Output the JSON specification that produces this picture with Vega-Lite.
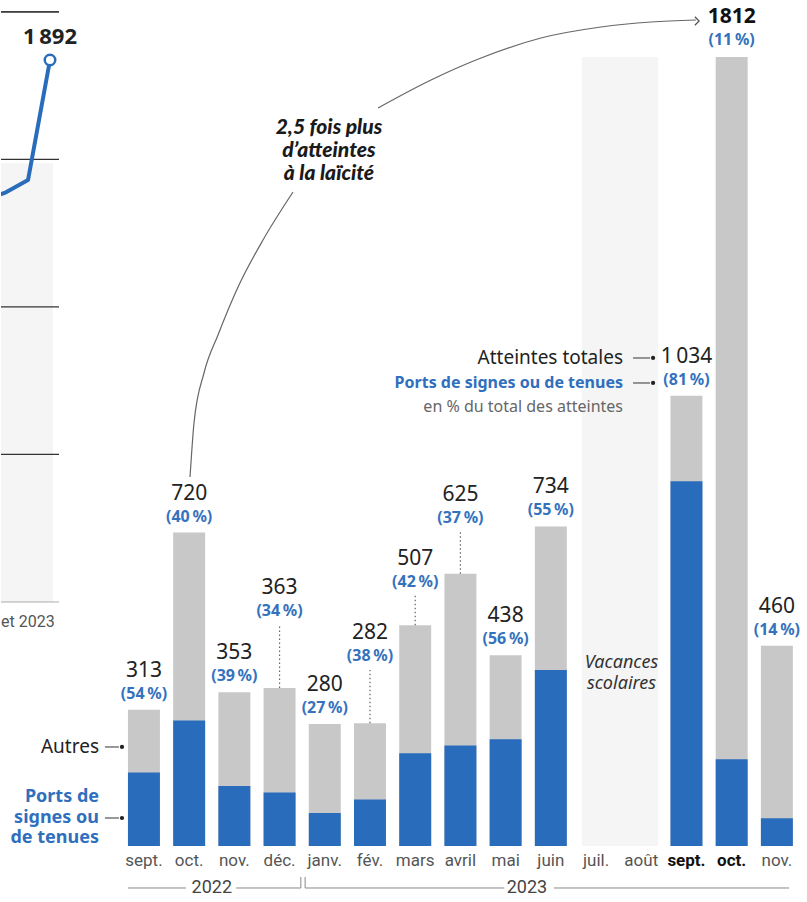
{
"$schema": "https://vega.github.io/schema/vega-lite/v6.json",
"padding": 0,
"spacing": 0,
"bounds": "flush",
"background": "white",
"config": {"view": {"stroke": null}, "font": "Noto Sans"},
"datasets": {
"months": [
{"key":"sept.|22","total":313,"ports":169,"lab":"313","pct":"(54\u202f%)"},
{"key":"oct.|22","total":720,"ports":288,"lab":"720","pct":"(40\u202f%)"},
{"key":"nov.|22","total":353,"ports":138,"lab":"353","pct":"(39\u202f%)"},
{"key":"déc.|22","total":363,"ports":123,"lab":"363","pct":"(34\u202f%)"},
{"key":"janv.|23","total":280,"ports":76,"lab":"280","pct":"(27\u202f%)"},
{"key":"fév.|23","total":282,"ports":107,"lab":"282","pct":"(38\u202f%)"},
{"key":"mars|23","total":507,"ports":213,"lab":"507","pct":"(42\u202f%)"},
{"key":"avril|23","total":625,"ports":231,"lab":"625","pct":"(37\u202f%)"},
{"key":"mai|23","total":438,"ports":245,"lab":"438","pct":"(56\u202f%)"},
{"key":"juin|23","total":734,"ports":404,"lab":"734","pct":"(55\u202f%)"},
{"key":"sept.|23","total":1034,"ports":838,"lab":"1\u202f034","pct":"(81\u202f%)"},
{"key":"oct.|23","total":1812,"ports":199,"lab":"1812","pct":"(11\u202f%)"},
{"key":"nov.|23","total":460,"ports":64,"lab":"460","pct":"(14\u202f%)"}
],
"line": [{"m":-1,"v":1403},{"m":0,"v":1430},{"m":1,"v":1473},{"m":2,"v":1892}],
"grid": [{"v":515},{"v":1030},{"v":1545},{"v":2060}],
"arc": [
{"seg":"a","i":1.019,"v":847.5},{"seg":"a","i":1.107,"v":971.5},{"seg":"a","i":1.328,"v":1086.3},{"seg":"a","i":1.638,"v":1173.6},{"seg":"a","i":2.102,"v":1288.4},{"seg":"a","i":2.633,"v":1391.8},{"seg":"a","i":3.297,"v":1502.0},
{"seg":"b","i":5.177,"v":1695.0},{"seg":"b","i":6.349,"v":1759.3},{"seg":"b","i":7.455,"v":1809.8},{"seg":"b","i":8.782,"v":1855.7},{"seg":"b","i":10.109,"v":1881.0},{"seg":"b","i":11.215,"v":1892.5},{"seg":"b","i":12.21,"v":1897.1}
],
"brackets": [{"a":-0.353,"b":0.93},{"a":2.04,"b":3.47},{"a":3.565,"b":7.97},{"a":9.07,"b":14.27}],
"ticks": [{"a":3.47},{"a":3.565}],
"years": [{"a":1.5,"t":"2022"},{"a":8.47,"t":"2023"}],
"one": [{}]
},
"hconcat": [
{
"width": 58, "height": 846,
"layer": [
{"data":{"name":"one"},"mark":{"type":"rect","fill":"#f5f5f5"},
 "encoding":{"x":{"datum":-0.2273,"type":"quantitative","scale":{"domain":[-0.2273,2.4091],"nice":false,"zero":false},"axis":null},"x2":{"datum":2.136},
 "y":{"datum":0,"type":"quantitative","scale":{"domain":[-851.75,2101.44],"nice":false,"zero":false},"axis":null},"y2":{"datum":1532}}},
{"data":{"name":"grid"},"mark":{"type":"rule","color":"#333","strokeWidth":1.2},
 "encoding":{"x":{"datum":-0.2273,"type":"quantitative","axis":null},"x2":{"datum":2.4091},"y":{"field":"v","type":"quantitative","axis":null}}},
{"data":{"name":"one"},"mark":{"type":"rule","color":"#333","strokeWidth":1.2},
 "encoding":{"x":{"datum":-0.2273,"type":"quantitative","axis":null},"x2":{"datum":2.4091},"y":{"datum":2060,"type":"quantitative","axis":null}}},
{"data":{"name":"one"},"mark":{"type":"rule","color":"#aaa","strokeWidth":1},
 "encoding":{"x":{"datum":-0.2273,"type":"quantitative","axis":null},"x2":{"datum":2.4091},"y":{"datum":0,"type":"quantitative","axis":null}}},
{"data":{"name":"line"},"mark":{"type":"line","color":"#2a6cbc","strokeWidth":4,"clip":true,"strokeJoin":"round"},
 "encoding":{"x":{"field":"m","type":"quantitative","axis":null},"y":{"field":"v","type":"quantitative","axis":null}}},
{"data":{"name":"line"},"transform":[{"filter":"datum.m==2"}],
 "mark":{"type":"point","shape":"circle","size":110,"filled":true,"fill":"white","stroke":"#2a6cbc","strokeWidth":2.5,"opacity":1},
 "encoding":{"x":{"field":"m","type":"quantitative","axis":null},"y":{"field":"v","type":"quantitative","axis":null}}},
{"data":{"name":"line"},"transform":[{"filter":"datum.m==2"}],
 "mark":{"type":"text","fontSize":22,"fontWeight":"bold","color":"#222","dy":-23,"baseline":"middle"},
 "encoding":{"x":{"field":"m","type":"quantitative","axis":null},"y":{"field":"v","type":"quantitative","axis":null},"text":{"value":"1\u202f892"}}},
{"data":{"name":"one"},"mark":{"type":"text","font":"Roboto","fontSize":16,"color":"#555","align":"left","baseline":"middle"},
 "encoding":{"x":{"datum":-0.2273,"type":"quantitative","axis":null},"y":{"datum":-69.8,"type":"quantitative","axis":null},"text":{"value":"et 2023"}}}
]
},
{
"width": 749, "height": 846,
"resolve": {"scale": {"x": "independent"}},
"layer": [
{"data":{"name":"one"},"mark":{"type":"rect","fill":"#f5f5f5"},
 "encoding":{"x":{"datum":9.688,"type":"quantitative","scale":{"domain":[-1.879,14.688],"nice":false,"zero":false},"axis":null},"x2":{"datum":11.369},
 "y":{"datum":0,"type":"quantitative","scale":{"domain":[0,1943],"nice":false,"zero":false},"axis":null},"y2":{"datum":1812}}},
{
 "data":{"name":"months"},
 "encoding":{"x":{"field":"key","type":"nominal","sort":null,
   "scale":{"type":"band","domain":["sept.|22","oct.|22","nov.|22","déc.|22","janv.|23","fév.|23","mars|23","avril|23","mai|23","juin|23","juil.|23","août|23","sept.|23","oct.|23","nov.|23"],"paddingInner":0.293,"paddingOuter":0.93,"align":0.82},
   "axis":{"title":null,"domain":false,"ticks":false,"grid":false,"labelAngle":0,"labelPadding":6,"labelOverlap":false,"labelFont":"Roboto","labelFontSize":17,
     "labelExpr":"split(datum.value,'|')[0]",
     "labelColor":{"condition":{"test":"datum.value=='sept.|23'||datum.value=='oct.|23'","value":"#111"},"value":"#555"},
     "labelFontWeight":{"condition":{"test":"datum.value=='sept.|23'||datum.value=='oct.|23'","value":"bold"},"value":"normal"}}}},
 "layer":[
  {"mark":{"type":"bar","color":"#c8c8c8"},"encoding":{"y":{"field":"total","type":"quantitative","scale":{"domain":[0,1943],"nice":false,"zero":false},"axis":null},"y2":{"datum":0}}},
  {"mark":{"type":"bar","color":"#2a6cbc"},"encoding":{"y":{"field":"ports","type":"quantitative","axis":null},"y2":{"datum":0}}},
  {"transform":[{"filter":{"field":"key","oneOf":["sept.|22","oct.|22","nov.|22","janv.|23","mai|23","juin|23","sept.|23","nov.|23"]}}],
   "mark":{"type":"text","fontSize":21,"color":"#222","baseline":"middle","dy":-39},"encoding":{"y":{"field":"total","type":"quantitative","axis":null},"text":{"field":"lab","type":"nominal"}}},
  {"transform":[{"filter":{"field":"key","oneOf":["sept.|22","oct.|22","nov.|22","janv.|23","mai|23","juin|23","sept.|23","nov.|23"]}}],
   "mark":{"type":"text","fontSize":16,"fontWeight":"bold","color":"#3572be","baseline":"middle","dy":-16},"encoding":{"y":{"field":"total","type":"quantitative","axis":null},"text":{"field":"pct","type":"nominal"}}},
  {"transform":[{"filter":"datum.key=='oct.|23'"}],
   "mark":{"type":"text","fontSize":21,"fontWeight":"bold","color":"#111","baseline":"middle","dy":-40},"encoding":{"y":{"field":"total","type":"quantitative","axis":null},"text":{"field":"lab","type":"nominal"}}},
  {"transform":[{"filter":"datum.key=='oct.|23'"}],
   "mark":{"type":"text","fontSize":16,"fontWeight":"bold","color":"#3572be","baseline":"middle","dy":-17},"encoding":{"y":{"field":"total","type":"quantitative","axis":null},"text":{"field":"pct","type":"nominal"}}},
  {"transform":[{"filter":"datum.key=='déc.|22'"}],"mark":{"type":"text","fontSize":21,"color":"#222","baseline":"middle"},"encoding":{"y":{"datum":592.5,"type":"quantitative","axis":null},"text":{"field":"lab","type":"nominal"}}},
  {"transform":[{"filter":"datum.key=='déc.|22'"}],"mark":{"type":"text","fontSize":16,"fontWeight":"bold","color":"#3572be","baseline":"middle","dy":23},"encoding":{"y":{"datum":592.5,"type":"quantitative","axis":null},"text":{"field":"pct","type":"nominal"}}},
  {"transform":[{"filter":"datum.key=='déc.|22'"}],"mark":{"type":"rule","color":"#666","strokeDash":[1.5,2.5],"strokeWidth":1.2},"encoding":{"y":{"field":"total","type":"quantitative","axis":null},"y2":{"datum":507.6}}},
  {"transform":[{"filter":"datum.key=='fév.|23'"}],"mark":{"type":"text","fontSize":21,"color":"#222","baseline":"middle"},"encoding":{"y":{"datum":489.2,"type":"quantitative","axis":null},"text":{"field":"lab","type":"nominal"}}},
  {"transform":[{"filter":"datum.key=='fév.|23'"}],"mark":{"type":"text","fontSize":16,"fontWeight":"bold","color":"#3572be","baseline":"middle","dy":23},"encoding":{"y":{"datum":489.2,"type":"quantitative","axis":null},"text":{"field":"pct","type":"nominal"}}},
  {"transform":[{"filter":"datum.key=='fév.|23'"}],"mark":{"type":"rule","color":"#666","strokeDash":[1.5,2.5],"strokeWidth":1.2},"encoding":{"y":{"field":"total","type":"quantitative","axis":null},"y2":{"datum":404.2}}},
  {"transform":[{"filter":"datum.key=='mars|23'"}],"mark":{"type":"text","fontSize":21,"color":"#222","baseline":"middle"},"encoding":{"y":{"datum":659.2,"type":"quantitative","axis":null},"text":{"field":"lab","type":"nominal"}}},
  {"transform":[{"filter":"datum.key=='mars|23'"}],"mark":{"type":"text","fontSize":16,"fontWeight":"bold","color":"#3572be","baseline":"middle","dy":23},"encoding":{"y":{"datum":659.2,"type":"quantitative","axis":null},"text":{"field":"pct","type":"nominal"}}},
  {"transform":[{"filter":"datum.key=='mars|23'"}],"mark":{"type":"rule","color":"#666","strokeDash":[1.5,2.5],"strokeWidth":1.2},"encoding":{"y":{"field":"total","type":"quantitative","axis":null},"y2":{"datum":576.5}}},
  {"transform":[{"filter":"datum.key=='avril|23'"}],"mark":{"type":"text","fontSize":21,"color":"#222","baseline":"middle"},"encoding":{"y":{"datum":806.1,"type":"quantitative","axis":null},"text":{"field":"lab","type":"nominal"}}},
  {"transform":[{"filter":"datum.key=='avril|23'"}],"mark":{"type":"text","fontSize":16,"fontWeight":"bold","color":"#3572be","baseline":"middle","dy":23},"encoding":{"y":{"datum":806.1,"type":"quantitative","axis":null},"text":{"field":"pct","type":"nominal"}}},
  {"transform":[{"filter":"datum.key=='avril|23'"}],"mark":{"type":"rule","color":"#666","strokeDash":[1.5,2.5],"strokeWidth":1.2},"encoding":{"y":{"field":"total","type":"quantitative","axis":null},"y2":{"datum":721.2}}}
 ]
},
{
 "layer":[
  {"data":{"name":"arc"},"mark":{"type":"line","color":"#666","strokeWidth":1.2,"interpolate":"monotone"},
   "encoding":{"x":{"field":"i","type":"quantitative","scale":{"domain":[-1.879,14.688],"nice":false,"zero":false},"axis":null},"y":{"field":"v","type":"quantitative","axis":null},"detail":{"field":"seg","type":"nominal"}}},
  {"data":{"name":"one"},"mark":{"type":"point","shape":"M-1,-1L0,0L-1,1","size":70,"filled":false,"stroke":"#555","strokeWidth":1.3,"opacity":1},
   "encoding":{"x":{"datum":12.278,"type":"quantitative","axis":null},"y":{"datum":1894.8,"type":"quantitative","axis":null}}},
  {"data":{"name":"one"},"mark":{"type":"text","font":"Lato","fontSize":21,"fontWeight":900,"fontStyle":"italic","color":"#1a1a1a","lineBreak":"\n","lineHeight":23,"baseline":"middle","align":"center"},
   "encoding":{"x":{"datum":4.092,"type":"quantitative","axis":null},"y":{"datum":1649.0,"type":"quantitative","axis":null},"text":{"value":"2,5 fois plus\nd’atteintes\nà la laïcité"}}},
  {"data":{"name":"one"},"mark":{"type":"text","fontSize":18,"fontStyle":"italic","color":"#333","lineBreak":"\n","lineHeight":21,"baseline":"middle","align":"center"},
   "encoding":{"x":{"datum":10.563,"type":"quantitative","axis":null},"y":{"datum":420.3,"type":"quantitative","axis":null},"text":{"value":"Vacances\nscolaires"}}},
  {"data":{"name":"brackets"},"mark":{"type":"rule","color":"#888","strokeWidth":1},
   "encoding":{"x":{"field":"a","type":"quantitative","axis":null},"x2":{"field":"b"},"y":{"datum":-96.46,"type":"quantitative","axis":null}}},
  {"data":{"name":"ticks"},"mark":{"type":"rule","color":"#888","strokeWidth":1},
   "encoding":{"x":{"field":"a","type":"quantitative","axis":null},"y":{"datum":-96.46,"type":"quantitative","axis":null},"y2":{"datum":-71.2}}},
  {"data":{"name":"years"},"mark":{"type":"text","font":"Roboto","fontSize":18,"color":"#444","baseline":"middle"},
   "encoding":{"x":{"field":"a","type":"quantitative","axis":null},"y":{"datum":-96.46,"type":"quantitative","axis":null},"text":{"field":"t","type":"nominal"}}},
  {"data":{"name":"one"},"mark":{"type":"text","fontSize":19,"color":"#222","align":"right","baseline":"middle"},
   "encoding":{"x":{"datum":-0.994,"type":"quantitative","axis":null},"y":{"datum":227.4,"type":"quantitative","axis":null},"text":{"value":"Autres"}}},
  {"data":{"name":"one"},"mark":{"type":"text","fontSize":18,"fontWeight":"bold","color":"#2f6fbd","align":"right","baseline":"middle","lineBreak":"\n","lineHeight":20.5},
   "encoding":{"x":{"datum":-0.994,"type":"quantitative","axis":null},"y":{"datum":112.5,"type":"quantitative","axis":null},"text":{"value":"Ports de\nsignes ou\nde tenues"}}},
  {"data":{"name":"one"},"mark":{"type":"rule","color":"#333","strokeWidth":1},
   "encoding":{"x":{"datum":-0.863,"type":"quantitative","axis":null},"x2":{"datum":-0.553},"y":{"datum":227.4,"type":"quantitative","axis":null}}},
  {"data":{"name":"one"},"mark":{"type":"rule","color":"#333","strokeWidth":1},
   "encoding":{"x":{"datum":-0.863,"type":"quantitative","axis":null},"x2":{"datum":-0.553},"y":{"datum":64.3,"type":"quantitative","axis":null}}},
  {"data":{"name":"one"},"mark":{"type":"point","shape":"circle","size":18,"filled":true,"color":"#222","opacity":1},
   "encoding":{"x":{"datum":-0.486,"type":"quantitative","axis":null},"y":{"datum":227.4,"type":"quantitative","axis":null}}},
  {"data":{"name":"one"},"mark":{"type":"point","shape":"circle","size":18,"filled":true,"color":"#222","opacity":1},
   "encoding":{"x":{"datum":-0.486,"type":"quantitative","axis":null},"y":{"datum":64.3,"type":"quantitative","axis":null}}},
  {"data":{"name":"one"},"mark":{"type":"text","fontSize":19,"color":"#222","align":"right","baseline":"middle"},
   "encoding":{"x":{"datum":10.596,"type":"quantitative","axis":null},"y":{"datum":1120.8,"type":"quantitative","axis":null},"text":{"value":"Atteintes totales"}}},
  {"data":{"name":"one"},"mark":{"type":"text","fontSize":16,"fontWeight":"bold","color":"#2f6fbd","align":"right","baseline":"middle"},
   "encoding":{"x":{"datum":10.596,"type":"quantitative","axis":null},"y":{"datum":1063.4,"type":"quantitative","axis":null},"text":{"value":"Ports de signes ou de tenues"}}},
  {"data":{"name":"one"},"mark":{"type":"text","fontSize":16,"color":"#666","align":"right","baseline":"middle"},
   "encoding":{"x":{"datum":10.596,"type":"quantitative","axis":null},"y":{"datum":1008.2,"type":"quantitative","axis":null},"text":{"value":"en % du total des atteintes"}}},
  {"data":{"name":"one"},"mark":{"type":"rule","color":"#333","strokeWidth":1},
   "encoding":{"x":{"datum":10.818,"type":"quantitative","axis":null},"x2":{"datum":11.194},"y":{"datum":1120.8,"type":"quantitative","axis":null}}},
  {"data":{"name":"one"},"mark":{"type":"rule","color":"#333","strokeWidth":1},
   "encoding":{"x":{"datum":10.818,"type":"quantitative","axis":null},"x2":{"datum":11.194},"y":{"datum":1063.4,"type":"quantitative","axis":null}}},
  {"data":{"name":"one"},"mark":{"type":"point","shape":"circle","size":18,"filled":true,"color":"#222","opacity":1},
   "encoding":{"x":{"datum":11.261,"type":"quantitative","axis":null},"y":{"datum":1120.8,"type":"quantitative","axis":null}}},
  {"data":{"name":"one"},"mark":{"type":"point","shape":"circle","size":18,"filled":true,"color":"#222","opacity":1},
   "encoding":{"x":{"datum":11.261,"type":"quantitative","axis":null},"y":{"datum":1063.4,"type":"quantitative","axis":null}}}
 ]
}
]
}
]
}
